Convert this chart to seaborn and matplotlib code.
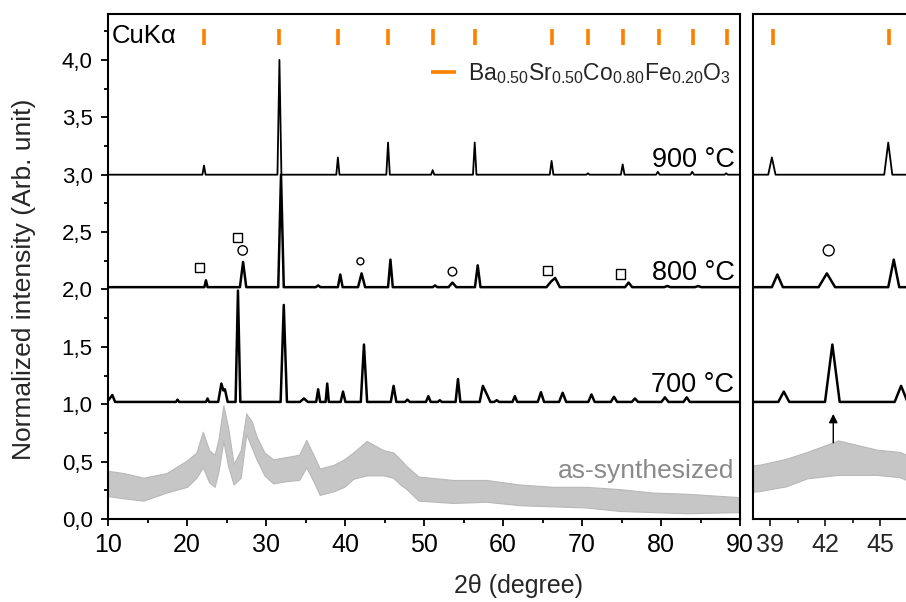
import matplotlib
matplotlib.use('Agg')
import matplotlib.pyplot as plt
from matplotlib.ticker import MultipleLocator, FuncFormatter
import seaborn as sns

# XRD patterns: vertices of each trace (2theta, normalized intensity)
x_900 = [10.0, 21.95, 22.15, 22.35, 31.45, 31.7, 31.95, 38.9, 39.1, 39.3,
         45.23, 45.45, 45.67, 50.9, 51.1, 51.3, 56.2, 56.42, 56.64,
         65.92, 66.15, 66.38, 70.55, 70.75, 70.95, 74.92, 75.15, 75.38,
         79.37, 79.6, 79.83, 83.72, 83.95, 84.18, 88.05, 88.25, 88.45, 90.0]
y_900 = [3.0, 3.0, 3.08, 3.0, 3.0, 4.0, 3.0, 3.0, 3.15, 3.0,
         3.0, 3.28, 3.0, 3.0, 3.04, 3.0, 3.0, 3.28, 3.0,
         3.0, 3.12, 3.0, 3.0, 3.012, 3.0, 3.0, 3.09, 3.0,
         3.0, 3.025, 3.0, 3.0, 3.025, 3.0, 3.0, 3.012, 3.0, 3.0]

x_800 = [10.0, 22.2, 22.4, 22.6, 26.7, 27.1, 27.5, 31.55, 31.9, 32.25,
         36.3, 36.6, 36.9, 39.1, 39.4, 39.7, 41.65, 42.1, 42.55,
         45.45, 45.75, 46.05, 51.1, 51.4, 51.7, 53.1, 53.6, 54.1,
         56.45, 56.8, 57.15, 65.5, 66.1, 66.6, 67.2, 75.45, 75.9, 76.35,
         80.4, 80.8, 81.2, 84.3, 84.7, 85.1, 90.0]
y_800 = [2.02, 2.02, 2.08, 2.02, 2.02, 2.24, 2.02, 2.02, 3.0, 2.02,
         2.02, 2.035, 2.02, 2.02, 2.13, 2.02, 2.02, 2.14, 2.02,
         2.02, 2.26, 2.02, 2.02, 2.035, 2.02, 2.02, 2.06, 2.02,
         2.02, 2.21, 2.02, 2.02, 2.07, 2.10, 2.02, 2.02, 2.06, 2.02,
         2.02, 2.03, 2.02, 2.02, 2.03, 2.02, 2.02]

x_700 = [10.0, 10.55, 10.9, 18.6, 18.8, 19.0, 22.4, 22.6, 22.8,
         23.95, 24.35, 24.6, 24.8, 25.15, 26.15, 26.45, 26.75,
         31.85, 32.25, 32.65, 34.3, 34.8, 35.3, 36.35, 36.6, 36.85,
         37.55, 37.75, 37.95, 39.45, 39.75, 40.05, 42.0, 42.4, 42.8,
         45.8, 46.15, 46.5, 47.6, 47.9, 48.2, 50.25, 50.55, 50.85,
         51.75, 52.0, 52.25, 54.0, 54.3, 54.6, 57.05, 57.45, 58.0, 58.4,
         58.9, 59.2, 59.5, 61.2, 61.5, 61.8, 64.4, 64.8, 65.2,
         67.1, 67.55, 68.0, 70.8, 71.2, 71.6, 73.65, 74.05, 74.45,
         76.3, 76.7, 77.1, 80.05, 80.5, 80.95, 82.85, 83.25, 83.65, 90.0]
y_700 = [1.03, 1.08, 1.02, 1.02, 1.04, 1.02, 1.02, 1.05, 1.02,
         1.02, 1.18, 1.12, 1.13, 1.02, 1.02, 1.99, 1.02,
         1.02, 1.865, 1.02, 1.02, 1.05, 1.02, 1.02, 1.13, 1.02,
         1.02, 1.18, 1.02, 1.02, 1.11, 1.02, 1.02, 1.52, 1.02,
         1.02, 1.16, 1.02, 1.02, 1.04, 1.02, 1.02, 1.07, 1.02,
         1.02, 1.035, 1.02, 1.02, 1.22, 1.02, 1.02, 1.16, 1.08, 1.02,
         1.02, 1.035, 1.02, 1.02, 1.07, 1.02, 1.02, 1.105, 1.02,
         1.02, 1.10, 1.02, 1.02, 1.085, 1.02, 1.02, 1.065, 1.02,
         1.02, 1.05, 1.02, 1.02, 1.06, 1.02, 1.02, 1.06, 1.02, 1.02]

# as-synthesized: noisy trace, kept as its lower/upper envelope
x_as = [10, 12, 14.5, 17.4, 20, 21.2, 22.0, 22.8, 23.5, 24.0, 24.6, 25.2,
        25.9, 26.8, 27.5, 28.2, 28.8, 29.8, 30.9, 32.6, 34.2, 35.1, 36.0,
        36.8, 38.5, 39.9, 41.05, 42.75, 44.85, 46.1, 47.0, 47.8, 49.3,
        53.7, 57.9, 62.15, 66.4, 70.6, 74.8, 79.0, 83.25, 90]
hi_as = [0.42, 0.40, 0.36, 0.40, 0.51, 0.58, 0.76, 0.60, 0.56, 0.70, 0.99, 0.80,
         0.48, 0.60, 0.92, 0.85, 0.72, 0.58, 0.52, 0.54, 0.56, 0.69, 0.56,
         0.44, 0.47, 0.52, 0.58, 0.68, 0.60, 0.58, 0.52, 0.46, 0.37,
         0.34, 0.34, 0.30, 0.28, 0.28, 0.26, 0.23, 0.22, 0.19]
lo_as = [0.20, 0.18, 0.16, 0.23, 0.28, 0.36, 0.45, 0.32, 0.28, 0.42, 0.68, 0.46,
         0.30, 0.36, 0.74, 0.62, 0.52, 0.38, 0.31, 0.33, 0.34, 0.45, 0.33,
         0.21, 0.24, 0.28, 0.35, 0.38, 0.38, 0.36, 0.30, 0.26, 0.16,
         0.14, 0.15, 0.12, 0.11, 0.10, 0.07, 0.06, 0.05, 0.06]

# reference reflections (orange ticks)
ref_pos = [22.2, 31.7, 39.15, 45.5, 51.2, 56.5, 66.2, 70.8, 75.2, 79.7, 84.0, 88.3]

# secondary phase markers on the 800 °C pattern
sq_x = [21.6, 26.4, 65.65, 74.9]
sq_y = [2.19, 2.45, 2.165, 2.135]
circ_x = [27.05, 41.95, 53.6]
circ_y = [2.34, 2.245, 2.155]
circ_s = [46, 25, 38]
zoom_circ_x = [42.2]
zoom_circ_y = [2.34]

labels_temp = ['900 °C', '800 °C', '700 °C']
labels_y = [3.07, 2.083, 1.11]

sns.set_style('ticks')
plt.rcParams['font.family'] = ['Liberation Sans', 'DejaVu Sans']
plt.rcParams['mathtext.fontset'] = 'custom'
plt.rcParams['mathtext.rm'] = 'Liberation Sans'
plt.rcParams['mathtext.it'] = 'Liberation Sans:italic'

ORANGE = '#ff8000'
GRAY = '#c6c6c6'

fig = plt.figure(figsize=(9.06, 6.02), dpi=100)
ax1 = fig.add_axes([108 / 906, 83 / 602, 632 / 906, 505 / 602])
ax2 = fig.add_axes([753 / 906, 83 / 602, 160 / 906, 505 / 602])

formula = r'Ba$_{0.50}$Sr$_{0.50}$Co$_{0.80}$Fe$_{0.20}$O$_{3}$'

for ax in (ax1, ax2):
    ax.fill_between(x_as, lo_as, hi_as, color=GRAY, lw=0.8, edgecolor='#b8b8b8', zorder=1)
    sns.lineplot(x=x_700, y=y_700, ax=ax, color='black', lw=1.8, sort=False, estimator=None, zorder=3)
    sns.lineplot(x=x_800, y=y_800, ax=ax, color='black', lw=1.8, sort=False, estimator=None, zorder=3)
    sns.lineplot(x=x_900, y=y_900, ax=ax, color='black', lw=1.3, sort=False, estimator=None, zorder=3)
    ax.vlines(ref_pos, 4.13, 4.27, color=ORANGE, lw=2.6, label=formula, zorder=4)
    ax.set_ylim(0, 4.4)
    for sp in ax.spines.values():
        sp.set_linewidth(1.5)
        sp.set_color('black')

ax1.scatter(sq_x, sq_y, s=44, marker='s', facecolors='none', edgecolors='black', linewidths=1.0, zorder=5)
ax1.scatter(circ_x, circ_y, s=circ_s, marker='o', facecolors='none', edgecolors='black', linewidths=1.0, zorder=5)
ax2.scatter(zoom_circ_x, zoom_circ_y, s=62, marker='o', facecolors='none', edgecolors='black', linewidths=1.0, zorder=5)

ax2.annotate('', xy=(42.45, 0.94), xytext=(42.45, 0.64),
             arrowprops=dict(arrowstyle='-|>', color='black', lw=1.0, mutation_scale=13))

ax1.set_xlim(10, 90)
ax1.xaxis.set_major_locator(MultipleLocator(10))
ax1.xaxis.set_minor_locator(MultipleLocator(5))
ax1.yaxis.set_major_locator(MultipleLocator(0.5))
ax1.yaxis.set_minor_locator(MultipleLocator(0.25))
ax1.yaxis.set_major_formatter(FuncFormatter(lambda v, p: f'{v:.1f}'.replace('.', ',')))
ax1.tick_params(axis='both', which='both', direction='out', width=1.3, colors='black')
ax1.tick_params(which='major', length=5)
ax1.tick_params(which='minor', length=3)
ax1.tick_params(axis='x', labelsize=18, pad=5)
ax1.tick_params(axis='y', labelsize=16, pad=6)
ax1.set_xlabel('')
ax1.set_ylabel('')

ax2.set_xlim(38.07, 46.8)
ax2.xaxis.set_major_locator(MultipleLocator(3))
ax2.xaxis.set_minor_locator(MultipleLocator(1.5))
ax2.tick_params(axis='x', which='both', direction='out', width=1.3, labelsize=18, pad=5)
ax2.tick_params(axis='x', which='major', length=5)
ax2.tick_params(axis='x', which='minor', length=3)
ax2.tick_params(axis='y', which='both', left=False, labelleft=False)
ax2.set_xlabel('')
ax2.set_ylabel('')

for lab, yv in zip(labels_temp, labels_y):
    ax1.text(89.3, yv, lab, ha='right', va='baseline', fontsize=19.5, color='black', zorder=6)
ax1.text(89.3, 0.36, 'as-synthesized', ha='right', va='baseline', fontsize=19, color='#8a8a8a', zorder=6)
ax1.text(10.45, 4.145, 'CuKα', ha='left', va='baseline', fontsize=18.5, color='black')

ax1.legend(loc='upper right', bbox_to_anchor=(1.0, 0.925), frameon=False, fontsize=16.5,
           handlelength=1.1, handletextpad=0.5, borderaxespad=0.2, borderpad=0.2)

fig.text(518 / 906, 16 / 602, '2θ (degree)', ha='center', va='center', fontsize=18)
fig.text(24 / 906, 323 / 602, 'Normalized intensity (Arb. unit)', rotation=90,
         ha='center', va='center', fontsize=19)

fig.savefig('out.png', dpi=100)
plt.close(fig)
